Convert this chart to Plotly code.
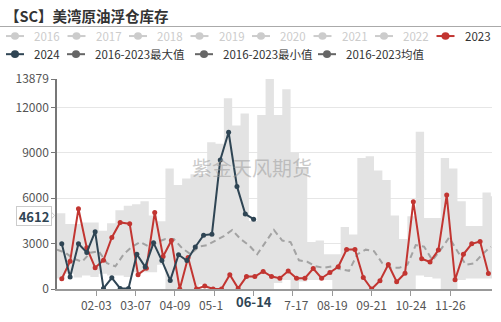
import plotly.graph_objects as go
import pandas as pd

# ---------------- data ----------------
title_text = "【SC】美湾原油浮仓库存"
watermark = "紫金天风期货"

# category axis: every MM-DD of a (leap) year
days = pd.date_range("2024-01-01", "2024-12-31", freq="D").strftime("%m-%d").tolist()
tick_vals = days[33:331:33]          # 02-03 ... 11-26

dates_2023 = pd.date_range("2023-01-05", periods=52, freq="7D").strftime("%m-%d").tolist()
values_2023 = [680, 1830, 5300, 2720, 1410, 1900, 3410, 4400, 4310, 950,
               1370, 5050, 2150, 3200, 0, 2080, 0, 200, 0, 0,
               950, 40, 820, 820, 1160, 820, 710, 1190, 710, 710,
               1350, 710, 1090, 1470, 2610, 2610, 760, 0, 550, 1620,
               480, 1040, 5770, 2000, 1790, 2570, 6210, 610, 2290, 2990,
               3140, 1030]

dates_2024 = pd.date_range("2024-01-05", periods=24, freq="7D").strftime("%m-%d").tolist()
values_2024 = [2990, 800, 2990, 2420, 3790, 40, 740, 40, 40, 2300,
               1460, 3050, 1880, 570, 2260, 1880, 2780, 3560, 3620, 8530,
               10360, 6780, 4950, 4612]

dates_hist = pd.date_range("2024-01-01", periods=53, freq="7D").strftime("%m-%d").tolist()
max_2016_2023 = [5000, 4300, 4300, 4400, 4400, 3850, 4350, 5200, 5500, 5600,
                 5800, 4860, 4480, 7960, 6880, 7300, 7580, 7600, 9700, 9600,
                 12600, 10800, 11600, 4500, 11500, 13879, 11500, 13200, 9000, 8000,
                 3100, 3200, 2300, 2300, 4100, 3600, 8650, 8780, 7830, 7200,
                 4860, 3300, 4800, 10400, 4700, 4700, 8650, 7960, 5800, 4170,
                 4170, 6380, 6130]
min_2016_2023 = [700, 1000, 760, 900, 800, 1000, 900, 900, 800, 1100,
                 1100, 1100, 1600, 0, 0, 0, 0, 300, 0, 0,
                 0, 0, 0, 0, 0, 0, 400, 600, 0, 500,
                 600, 600, 600, 0, 0, 0, 0, 0, 0, 0,
                 0, 0, 0, 900, 800, 700, 0, 0, 600, 700,
                 700, 700, 700]
mean_2016_2023 = [2600, 2400, 2000, 1800, 2400, 2500, 1700, 1500, 2300, 2800,
                  3100, 2800, 3100, 3300, 3300, 2700, 2300, 2800, 2900, 3200,
                  3500, 3900, 3300, 2900, 2300, 3100, 3900, 3200, 3100, 1900,
                  1800, 1500, 1400, 1500, 1300, 1200, 2300, 2600, 2500, 1700,
                  1400, 1400, 1600, 2900, 2800, 1900, 2600, 3400, 2500, 1600,
                  1700, 2300, 2800]

y_ticks = [0, 3000, 6000, 9000, 12000, 13879]

legend_row1 = ["2016", "2017", "2018", "2019", "2020", "2021", "2022", "2023"]
legend_row2 = ["2024", "2016-2023最大值", "2016-2023最小值", "2016-2023均值"]

# ---------------- styling ----------------
RED = "#c23531"
NAVY = "#2f4554"
GREY_ICON = "#666666"
OFF = "#cccccc"
BAND = "#e3e3e3"
FONT = "Noto Sans CJK SC"
FSP = "\u2007"   # figure space (hidden digit width)

W, H = 501, 322
L, R, T, B = 57, 9, 79, 23
PW, PH = W - L - R, H - T - B


def px(x):
    return (x - L) / PW


def py(y):
    return (H - B - y) / PH


# tick labels; the ones next to the highlighted pointer label are partly hidden
pointer_date = dates_2024[-1]
pi = tick_vals.index(pointer_date)
tick_text = list(tick_vals)
tick_text[pi] = ""
tick_text[pi - 1] = tick_vals[pi - 1][:-1] + FSP
tick_text[pi + 1] = FSP + tick_vals[pi + 1][1:]

fig = go.Figure()

# band extended to the last day of the axis
band_x = dates_hist + [days[-1]]
band_min = min_2016_2023 + [min_2016_2023[-1]]
band_max = max_2016_2023 + [max_2016_2023[-1]]

fig.add_trace(go.Scatter(x=band_x, y=band_min, mode="lines",
                         line=dict(width=0, shape="hv", color=BAND),
                         hoverinfo="skip", showlegend=False))
fig.add_trace(go.Scatter(x=band_x, y=band_max, mode="lines", fill="tonexty",
                         fillcolor=BAND, line=dict(width=0, shape="hv", color=BAND),
                         hoverinfo="skip", showlegend=False))
fig.add_trace(go.Scatter(x=dates_hist, y=mean_2016_2023, mode="lines",
                         line=dict(color="#a3a3a3", width=2, dash="6px,4px"),
                         showlegend=False))
fig.add_trace(go.Scatter(x=dates_2023, y=values_2023, mode="lines+markers",
                         line=dict(color=RED, width=2),
                         marker=dict(color=RED, size=5),
                         showlegend=False))
fig.add_trace(go.Scatter(x=dates_2024, y=values_2024, mode="lines+markers",
                         line=dict(color=NAVY, width=2),
                         marker=dict(color=NAVY, size=5),
                         showlegend=False))

shapes = []
annotations = []

# title + separator
annotations.append(dict(xref="paper", yref="paper", x=px(3), y=py(12),
                        xanchor="left", yanchor="middle", showarrow=False,
                        text="<b>" + title_text + "</b>",
                        font=dict(family=FONT, size=14.5, color="#333333")))
shapes.append(dict(type="line", xref="paper", yref="paper",
                   x0=px(0), x1=px(W), y0=py(24), y1=py(24),
                   line=dict(color="#aaaaaa", width=1)))


def legend_item(cx, cy, label, color, active):
    col = color if active else OFF
    shapes.append(dict(type="line", xref="paper", yref="paper",
                       x0=px(cx - 9), x1=px(cx + 9), y0=py(cy), y1=py(cy),
                       line=dict(color=col, width=2)))
    shapes.append(dict(type="circle", xref="paper", yref="paper",
                       x0=px(cx - 4), x1=px(cx + 4), y0=py(cy - 4), y1=py(cy + 4),
                       fillcolor=col, line=dict(color=col, width=0)))
    annotations.append(dict(xref="paper", yref="paper", x=px(cx + 17), y=py(cy),
                            xanchor="left", yanchor="middle", showarrow=False,
                            text=label,
                            font=dict(family=FONT, size=11.5,
                                      color="#333333" if active else OFF)))


row1_x = [15 + 61.5 * i for i in range(len(legend_row1))]
for i, name in enumerate(legend_row1):
    legend_item(row1_x[i], 34, name, RED, name == "2023")

row2_x = [15, 76, 204, 327]
row2_col = [NAVY, GREY_ICON, GREY_ICON, GREY_ICON]
for i, name in enumerate(legend_row2):
    legend_item(row2_x[i], 53, name, row2_col[i], True)

# watermark
annotations.append(dict(xref="paper", yref="paper", x=px(252), y=py(172),
                        xanchor="center", yanchor="middle", showarrow=False,
                        text=watermark,
                        font=dict(family=FONT, size=20, color="rgba(150,150,150,0.5)")))

# axis pointer labels
last_val = values_2024[-1]
annotations.append(dict(xref="paper", yref="paper", x=px(33.5), y=py(222),
                        xanchor="center", yanchor="middle", showarrow=False,
                        text="<b>%d</b>" % last_val, width=32, height=16,
                        bgcolor="white", bordercolor="#cccccc", borderwidth=1,
                        font=dict(family=FONT, size=13, color=NAVY)))
shapes.append(dict(type="path", xref="paper", yref="paper",
                   path="M %f %f L %f %f L %f %f Z" % (px(51), py(218), px(54.5), py(222),
                                                       px(51), py(226)),
                   fillcolor="white", line=dict(color="#cccccc", width=1)))
annotations.append(dict(xref="x", yref="paper", x=pointer_date, y=py(312),
                        xanchor="center", yanchor="middle", showarrow=False,
                        text="<b>%s</b>" % pointer_date,
                        font=dict(family=FONT, size=13, color=NAVY)))

fig.update_layout(
    width=W, height=H,
    margin=dict(l=L, r=R, t=T, b=B),
    paper_bgcolor="white", plot_bgcolor="white",
    showlegend=False,
    shapes=shapes, annotations=annotations,
    font=dict(family=FONT, size=12, color="#555555"),
    xaxis=dict(type="category", categoryorder="array", categoryarray=days,
               range=[0, len(days) - 1], tickmode="array", tickvals=tick_vals,
               ticktext=tick_text, ticks="outside", ticklen=5, tickcolor="#999999",
               showline=True, linecolor="#999999", linewidth=1.5,
               showgrid=False, zeroline=False,
               tickfont=dict(family=FONT, size=12, color="#555555")),
    yaxis=dict(range=[0, y_ticks[-1]], tickmode="array", tickvals=y_ticks,
               ticktext=[str(v) for v in y_ticks],
               ticks="outside", ticklen=4, tickcolor="#777777",
               showline=True, linecolor="#777777", linewidth=1.5,
               showgrid=True, gridcolor="#e6e6e6", gridwidth=1, zeroline=False,
               tickfont=dict(family=FONT, size=12, color="#555555")),
)

fig.write_html("out.html")
